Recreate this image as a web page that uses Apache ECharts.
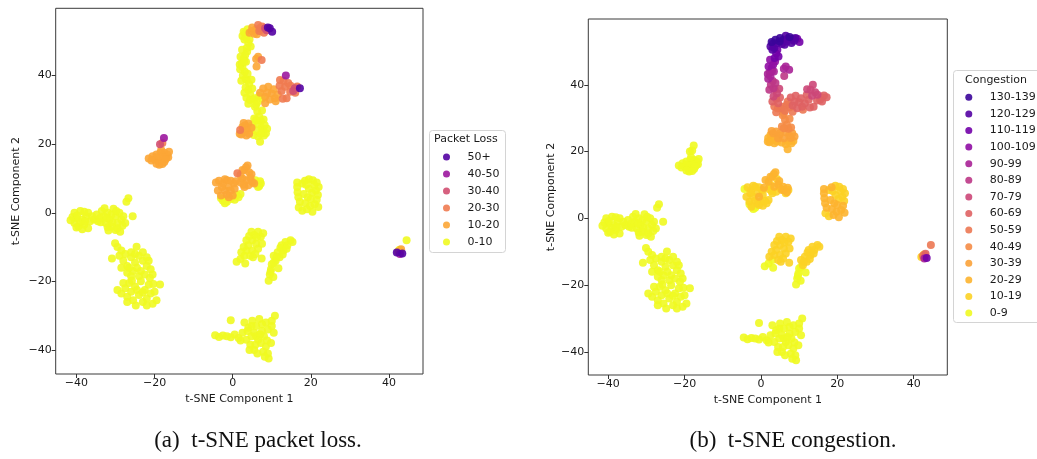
<!DOCTYPE html>
<html>
<head>
<meta charset="utf-8">
<script src="https://cdn.jsdelivr.net/npm/echarts@6/dist/echarts.min.js"></script>
<style>
html,body{margin:0;padding:0;background:#fff;}
#chart{width:1037px;height:459px;}
</style>
</head>
<body>
<div id="chart"></div>
<script>
// ---- bins / legend labels ----
const plBins = ['0-10', '10-20', '20-30', '30-40', '40-50', '50+'];
const cgBins = ['0-9', '10-19', '20-29', '30-39', '40-49', '50-59', '60-69', '70-79', '80-89', '90-99', '100-109', '110-119', '120-129', '130-139'];
const plColors = ['#f0f921', '#fca636', '#ef7b51', '#d24f71', '#9c179e', '#5402a3'];
const cgColors = ['#f0f921', '#fcd225', '#fdb42f', '#fba238', '#f58c46', '#ec7853', '#df6263', '#cc4778', '#bd3786', '#a82296', '#8f0da4', '#7201a8', '#5402a3', '#3b049a'];
const tickValues = [-40, -20, 0, 20, 40];

// ---- points: [tSNE1, tSNE2, packetLossBin, congestionBin] ----
const clusterTop = [
  [3.1,52.3,0,12],[3.5,51.0,0,12],[2.8,52.8,0,13],[4.3,52.5,1,12],[4.9,53.0,1,13],[5.5,52.2,1,12],[5.9,53.5,1,12],
  [6.5,54.7,2,12],[7.0,53.8,2,12],[7.5,54.3,2,13],[8.3,53.8,3,12],[9.0,54.0,5,12],[9.5,53.8,5,11],[10.1,52.8,5,11],
  [6.2,52.0,1,12],[8.0,52.5,2,12],[3.8,53.5,0,13],[5.0,54.0,1,13],[6.8,53.0,2,12],[8.7,53.2,3,12],[2.5,51.5,0,12],
  [4.0,49.4,0,11],[3.6,48.0,0,11],[3.7,47.0,0,10],[3.2,46.0,0,10],[2.8,45.0,0,9],[2.3,43.6,0,9],[3.4,44.0,0,9],
  [2.5,42.5,0,9],[3.1,41.1,0,8],[2.6,40.0,0,8],[3.3,39.0,0,8],[3.6,38.7,0,7],[4.2,37.5,0,7],[4.0,35.8,0,6],
  [3.3,36.5,0,7],[4.5,34.5,0,6],[4.4,32.9,0,5],[3.5,33.5,0,5],[1.8,43.2,0,9],[2.4,47.5,0,10],[4.3,50.5,0,11],
  [3.0,50.5,0,12],[4.6,48.5,0,11],[2.0,45.5,0,10],[2.9,44.2,0,9],[1.9,41.8,0,9],[3.8,40.5,0,8],[2.2,38.5,0,8],
  [4.8,38.8,0,7],[3.0,35.0,0,6],[5.0,36.2,0,6],[5.2,33.0,0,5],[4.0,31.8,0,5],
  [6.5,45.5,1,9],[7.4,44.5,2,9],[6.1,42.6,1,8],[6.0,44.8,1,9],
  [5.7,33.4,0,5],[6.8,34.0,0,5],[7.5,33.2,0,5],[8.3,31.9,1,5],[8.3,33.8,1,6],[9.1,36.7,1,6],[10.0,34.8,1,6],
  [10.8,33.4,1,6],[9.5,33.0,1,6],[11.5,34.5,1,6],[12.1,38.7,2,7],[13.4,36.7,2,7],[12.5,35.5,2,6],[14.7,35.3,2,6],
  [15.9,36.3,3,6],[13.8,33.4,2,6],[13.6,40.0,4,7],[17.2,36.3,5,6],[15.5,35.5,3,6],[16.5,36.8,2,6],[14.2,37.8,2,7],
  [12.8,33.2,2,6],[7.8,36.2,1,6],[6.3,32.2,0,5],[7.0,35.0,1,5],[8.8,35.0,1,6],[10.5,36.0,1,6],[11.0,32.5,1,5],
  [13.0,38.5,2,7],[14.8,37.0,2,7],[16.0,35.0,2,6],[12.0,37.0,2,6],
  [5.7,30.9,0,4],[6.3,29.5,0,4],[6.8,28.0,0,4],[7.2,26.8,0,4],[6.5,25.8,0,3],[7.4,24.8,0,3],[7.8,24.1,0,3],
  [6.5,22.2,0,2],[7.0,20.7,0,2],[8.0,22.5,0,2],[4.5,24.0,0,3],[5.4,22.7,0,2],[5.5,27.5,0,4],[8.5,23.2,0,2],
  [6.0,31.5,0,4],[7.5,29.8,0,4],[6.0,27.0,0,4],[7.9,27.2,0,4],[8.2,25.5,0,3],[6.0,24.0,0,3],[7.2,23.0,0,2],
  [8.8,24.5,0,3],[5.0,25.5,0,3],
  [1.9,24.1,2,2],[2.5,25.0,1,2],[3.2,25.5,1,3],[4.0,26.0,1,3],[3.0,23.5,1,2],[2.2,22.8,1,2],[4.2,23.0,1,2],[3.6,24.3,1,2],
  [2.8,26.2,1,3],[1.8,23.0,1,2],[3.5,22.5,1,2],[4.8,24.8,1,2]
];
const clusterUpperLeft = [
  [-21.5,15.8,1,0],[-20.5,16.5,1,0],[-19.5,17.0,1,0],[-18.5,17.5,1,0],[-17.5,17.5,1,0],[-16.8,17.0,1,0],
  [-17.0,16.0,1,0],[-18.0,15.5,1,0],[-19.0,15.0,1,0],[-18.8,14.0,1,0],[-17.5,14.8,1,0],[-20.0,15.5,1,0],
  [-16.5,16.2,1,0],[-18.0,16.8,1,0],[-19.5,16.0,1,0],[-20.8,15.2,1,0],[-17.2,15.5,1,0],[-18.3,18.3,1,0],
  [-19.5,14.3,1,0],[-16.3,17.8,1,0],[-18.0,14.2,1,0],
  [-18.6,20.0,3,0],[-18.0,20.3,2,0],[-17.6,21.8,4,0]
];
const clusterLeft = [
  [-40.5,0,0,0],[-40,-1.5,0,0],[-40.5,-3,0,0],[-39.5,-4,0,0],[-39,0.5,0,0],[-38.5,-2,0,0],[-38,-3.5,0,0],
  [-37.5,-1,0,0],[-37,0,0,0],[-37,-4.5,0,0],[-39,-2.8,0,0],[-38,0.3,0,0],[-36.5,-2.5,0,0],[-41,-1.2,0,0],
  [-39.8,-0.8,0,0],[-35.5,-2,0,0],[-34.5,-2.5,0,0],[-41.5,-2.2,0,0],[-40,-4.3,0,0],[-38.5,-4.8,0,0],
  [-36,-1,0,0],[-37.8,-2.5,0,0],
  [-33.5,0.5,0,0],[-33,-1,0,0],[-32.5,-3,0,0],[-32,0,0,0],[-31.5,-2,0,0],[-31,-4,0,0],[-30.5,1.2,0,0],
  [-30,-1,0,0],[-29.5,-3,0,0],[-29,0,0,0],[-28.5,-2,0,0],[-28,-1,0,0],[-33.8,-2.8,0,0],[-31,-0.5,0,0],
  [-30,-5,0,0],[-32,-4.2,0,0],[-29.5,-4.5,0,0],[-27.5,-3,0,0],[-34,-1.5,0,0],[-32.8,1.3,0,0],
  [-31.8,-5.2,0,0],[-30.8,-2.8,0,0],[-28.2,-3.8,0,0],[-32.2,-1.5,0,0],[-29.8,0.5,0,0],[-34.8,-0.5,0,0],
  [-26.7,4.2,0,0],[-27.2,3.2,0,0],[-25.6,-1.0,0,0],[-28.8,-5.5,0,0]
];
const clusterLowerLeft = [
  [-30.1,-8.9,0,0],[-29.5,-10,0,0],[-28.5,-11,0,0],[-27.5,-12,0,0],[-30.9,-13.3,0,0],[-28,-14,0,0],
  [-27,-15.5,0,0],[-26,-13,0,0],[-25,-14.5,0,0],[-24,-12.5,0,0],[-24.6,-9.9,0,0],[-23,-14,0,0],
  [-22,-15.5,0,0],[-21,-16.5,0,0],[-23.5,-17,0,0],[-25.5,-17,0,0],[-27,-17.5,0,0],[-28.5,-16,0,0],
  [-24.5,-16,0,0],[-22.5,-18,0,0],[-20.5,-18,0,0],[-26,-11.5,0,0],[-23,-11.5,0,0],[-21.5,-14,0,0],
  [-29,-12.5,0,0],[-26.5,-16,0,0],[-25,-12,0,0],[-22,-13,0,0],[-24,-18.5,0,0],[-21.2,-19,0,0],[-26,-18.5,0,0],
  [-28.5,-23.5,0,0],[-27.5,-22,0,0],[-26.5,-20.5,0,0],[-26,-23,0,0],[-25,-21.5,0,0],[-25.5,-25.5,0,0],
  [-24,-24,0,0],[-23.5,-20,0,0],[-22.5,-22.5,0,0],[-22,-25,0,0],[-21,-23.5,0,0],[-20.5,-26.5,0,0],
  [-19.5,-25.5,0,0],[-23,-26,0,0],[-27,-24.5,0,0],[-24.5,-22.5,0,0],[-20.3,-20.8,0,0],[-18.6,-20.9,0,0],
  [-21.5,-21,0,0],[-28,-20.5,0,0],[-29.5,-22.5,0,0],[-27,-26,0,0],[-24.8,-27,0,0],[-22,-27,0,0],
  [-23,-23.2,0,0],[-20,-23,0,0],[-25.8,-19.8,0,0]
];
const clusterCentre = [
  [-4.3,8.8,1,0],[-3.5,9.3,1,1],[-2.5,8.5,1,1],[-1.5,9.5,1,1],[-0.5,9.3,1,1],[0.3,8.5,1,1],[-1,7.5,1,1],
  [-2,6.5,1,1],[-3,5,1,1],[-1.5,5.3,1,1],[-0.5,6.5,1,2],[0.5,7,1,1],[-2.8,7.5,1,1],[0,5,1,1],
  [-3.8,6.5,1,1],[-2,9.8,1,1],[0.8,9.2,1,2],[-1,4.5,1,1],
  [-2.5,3.5,0,1],[-1.5,3.2,0,0],[-0.5,4,0,1],[0.5,3.8,0,1],[1.5,4.5,0,1],[2,5.5,0,1],[1,5.2,0,1],[-3,4.2,0,0],[-2,2.8,0,0],
  [1.2,11.5,2,2],[2,11,1,2],[3,12.5,1,2],[3.4,13.3,1,2],[2.5,10,1,1],[3.5,9.5,1,2],[4.5,10.2,1,2],
  [5,9,1,1],[4,8,1,1],[3,7.5,1,1],[2,8.8,1,1],[4.2,11.8,1,1],[5.5,8.5,1,2],[2.5,12.5,1,2],[4.8,11.2,1,2],
  [3.8,13.8,1,2],[2.8,8.2,1,1],
  [6,8.5,0,2],[7.2,8.5,0,1],[6.5,7.5,0,1],[5.8,9.5,0,2],[7,9.2,0,2],[6.8,7.8,0,2]
];
const clusterRight = [
  [16.5,7.5,0,2],[16.6,6,0,2],[16.8,4.5,0,2],[17.2,3.2,0,2],[17.8,8.5,0,1],[18.5,9.3,0,2],[19.5,9.8,0,1],
  [20.5,9.5,0,1],[21.5,8.8,0,1],[22,7.5,0,1],[21.3,6.5,0,1],[20.3,5.8,0,1],[19.5,7,0,1],[21.8,5.2,0,1],
  [19.2,4.5,0,2],[18.6,2.8,0,2],[19.8,2,0,2],[21,2.5,0,2],[17.8,0.6,0,1],[20.4,0.3,0,2],[21.9,1.7,0,2],[18.2,5.5,0,2],
  [16.5,8.8,0,2],[18.8,8.2,0,1],[20.8,8.2,0,1],[21.5,3.8,0,2],[16.9,1.5,0,1],[19.0,1.0,0,2],[20.0,4.0,0,2]
];
const clusterMidLow = [
  [1,-14.3,0,0],[2,-13.5,0,0],[3,-12.5,0,0],[3.5,-11,0,1],[2.8,-10,0,1],[4,-9.5,0,1],[5,-8,0,1],
  [5.5,-6.5,0,1],[6.5,-5.5,0,1],[7.2,-7,0,1],[6,-9,0,1],[5,-11,0,1],[4.5,-12.5,0,1],[6.5,-10.5,0,1],
  [7.5,-9,0,1],[3.5,-8,0,1],[5.2,-13,0,1],[7.4,-13.3,0,1],[4.2,-6.8,0,1],
  [2.2,-11.5,0,1],[4.8,-5.5,0,1],[5.8,-12,0,1],[6.2,-7.2,0,1],[3.2,-14.8,0,0],[7.8,-6,0,1],
  [14.8,-8,0,1],[13.5,-8.5,0,1],[12.5,-9.5,0,1],[13,-11,0,1],[11.5,-11.5,0,1],[12,-13,0,1],[10.5,-12.5,0,1],
  [11,-14,0,1],[10,-15,0,0],[9.8,-16.5,0,0],[9.5,-18,0,0],[9.2,-19.8,0,0],[10.4,-18.7,0,0],[11.7,-16.2,0,0],
  [14,-9.5,0,1],[12.2,-10.2,0,1],[10.5,-14.5,0,0],[13.8,-10.5,0,1],[12.8,-12.2,0,1],[11.2,-13,0,1],
  [9.7,-17.2,0,0],[15.3,-8.5,0,1]
];
const clusterBottom = [
  [-4.5,-35.7,0,0],[-3.5,-36.2,0,0],[-2.5,-35.8,0,0],[-1.5,-36,0,0],[-0.5,-36.3,0,0],[0.5,-35.5,0,0],
  [1.5,-36.5,0,0],[2.5,-35,0,0],[-0.5,-31.3,0,0],[3,-32,0,0],[4,-33.5,0,0],[3.5,-37,0,0],[4.5,-38.5,0,0],
  [5,-31.5,0,0],[5.5,-35,0,0],[6,-33,0,0],[6.5,-37,0,0],[5.5,-40,0,0],[4.3,-40,0,0],[6.8,-31,0,0],
  [7.5,-34.5,0,0],[7.2,-38,0,0],[8,-36,0,0],[8.5,-32,0,0],[9,-34,0,0],[8.5,-39,0,0],[9,-41,0,0],
  [9.2,-42.5,0,0],[10,-33,0,0],[10.5,-35,0,0],[10.8,-30,0,0],[10,-31.5,0,0],[7.8,-40.5,0,0],[6,-36,0,0],
  [4.8,-36,0,0],[4.8,-33,0,0],[5.8,-38.5,0,0],[7,-35.5,0,0],[8.8,-37.2,0,0],[6.3,-41,0,0],[3.8,-34.5,0,0],
  [9.8,-38,0,0],[7.5,-32.5,0,0],[2,-37.2,0,0],[8.2,-42,0,0]
];
const clusterOutlier = [
  [42.7,-10.8,0,1],[42.9,-11.2,0,4],[42.5,-11.1,0,5],[42.4,-11.4,1,2],[43.1,-10.6,1,6],
  [42.0,-11.6,5,1],[43.4,-11.9,5,11],[42.8,-12.0,4,9],[44.5,-8,0,5]
];

const allPoints = [].concat(clusterTop, clusterUpperLeft, clusterLeft, clusterLowerLeft,
  clusterCentre, clusterRight, clusterMidLow, clusterBottom, clusterOutlier);

const fontFam = 'DejaVu Sans';
const txt = '#1a1a1a';

function fmt(v) { return v < 0 ? '\u2212' + Math.abs(v) : String(v); }

function axis(gridIndex, min, max, name, gap) {
  return {
    type: 'value', gridIndex: gridIndex, min: min, max: max,
    name: name, nameLocation: 'middle', nameGap: gap,
    nameTextStyle: { fontFamily: fontFam, fontSize: 11, color: txt },
    axisLine: { show: false, onZero: false },
    axisTick: { show: true, length: 4, lineStyle: { color: '#333' }, customValues: tickValues },
    axisLabel: { fontFamily: fontFam, fontSize: 11, color: txt, margin: 4, customValues: tickValues, formatter: fmt },
    splitLine: { show: false }
  };
}

const series = [];
plBins.forEach(function (b, i) {
  series.push({
    type: 'scatter', name: b, xAxisIndex: 0, yAxisIndex: 0,
    symbolSize: 8, itemStyle: { color: plColors[i], opacity: 0.9 },
    data: allPoints.filter(function (p) { return p[2] === i; }).map(function (p) { return [p[0], p[1]]; })
  });
});
cgBins.forEach(function (b, i) {
  series.push({
    type: 'scatter', name: b, xAxisIndex: 1, yAxisIndex: 1,
    symbolSize: 8, itemStyle: { color: cgColors[i], opacity: 0.9 },
    data: allPoints.filter(function (p) { return p[3] === i; }).map(function (p) { return [p[0], p[1]]; })
  });
});

const legendCommon = {
  orient: 'vertical', icon: 'circle', itemWidth: 32, itemHeight: 7, padding: 0,
  selectedMode: false,
  textStyle: { fontFamily: fontFam, fontSize: 11, color: txt, lineHeight: 12 }
};

const option = {
  animation: false,
  backgroundColor: '#ffffff',
  grid: [
    { left: 55.7, top: 8.3, width: 367.3, height: 365.7, show: true, borderColor: '#3a3a3a', borderWidth: 1, backgroundColor: 'transparent' },
    { left: 588.3, top: 19, width: 359, height: 356, show: true, borderColor: '#3a3a3a', borderWidth: 1, backgroundColor: 'transparent' }
  ],
  xAxis: [
    axis(0, -45.3, 48.7, 't-SNE Component 1', 19),
    axis(1, -45.2, 48.8, 't-SNE Component 1', 19)
  ],
  yAxis: [
    axis(0, -47.0, 59.6, 't-SNE Component 2', 34),
    axis(1, -46.9, 59.7, 't-SNE Component 2', 32)
  ],
  legend: [
    Object.assign({}, legendCommon, { left: 443, top: 151, itemGap: 5, data: plBins.slice().reverse() }),
    Object.assign({}, legendCommon, { left: 965.3, top: 91.3, itemGap: 4.6, data: cgBins.slice().reverse() })
  ],
  graphic: [
    { type: 'rect', z: -1, shape: { x: 429.5, y: 130.5, width: 76, height: 122, r: 3 }, style: { fill: '#fff', stroke: '#d4d4d4', lineWidth: 1 } },
    { type: 'text', x: 434, y: 139, style: { text: 'Packet Loss', fontFamily: fontFam, fontSize: 11, fill: txt, verticalAlign: 'middle' } },
    { type: 'rect', z: -1, shape: { x: 953.5, y: 70.5, width: 100, height: 252, r: 3 }, style: { fill: '#fff', stroke: '#d4d4d4', lineWidth: 1 } },
    { type: 'text', x: 965, y: 80, style: { text: 'Congestion', fontFamily: fontFam, fontSize: 11, fill: txt, verticalAlign: 'middle' } },
    { type: 'text', x: 258, y: 441, style: { text: '(a)  t-SNE packet loss.', fontFamily: 'Liberation Serif', fontSize: 23, fill: '#111', align: 'center', verticalAlign: 'middle' } },
    { type: 'text', x: 793, y: 441, style: { text: '(b)  t-SNE congestion.', fontFamily: 'Liberation Serif', fontSize: 23, fill: '#111', align: 'center', verticalAlign: 'middle' } }
  ],
  series: series
};

const chart = echarts.init(document.getElementById('chart'), null, { renderer: 'canvas' });
chart.setOption(option);
</script>
</body>
</html>
